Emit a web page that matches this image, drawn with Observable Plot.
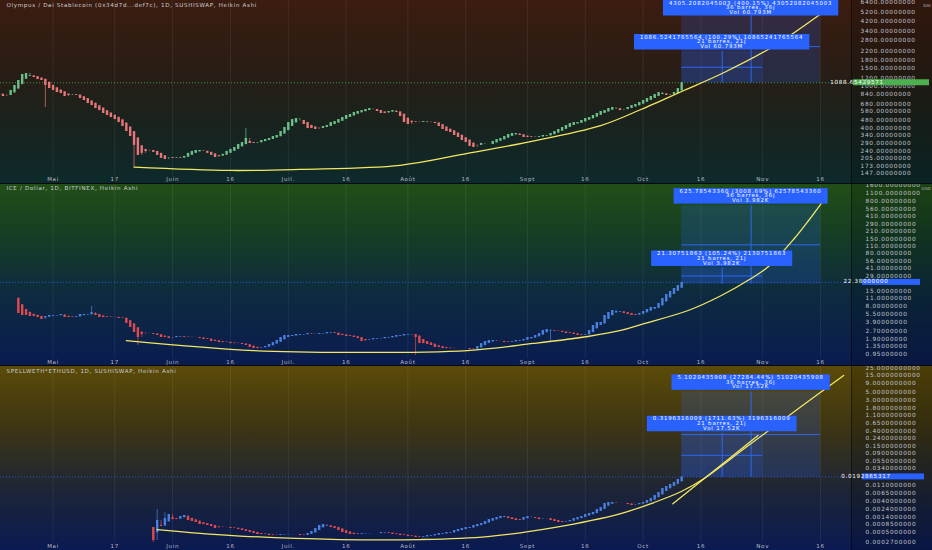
<!DOCTYPE html>
<html><head><meta charset="utf-8">
<script src="https://cdn.jsdelivr.net/npm/d3@7"></script>
<script src="https://cdn.jsdelivr.net/npm/@observablehq/plot@0.6"></script>
<style>
html,body{margin:0;padding:0;background:#0b1530;}
#wrap{width:932px;height:550px;position:relative;overflow:hidden;}
.panel{position:relative;width:932px;overflow:hidden;}
.axcol{position:absolute;top:0;right:0;width:80px;height:100%;background:rgba(0,0,0,0.16);border-left:1px solid rgba(0,0,0,0.45);}
.sepline{position:absolute;left:0;top:0;width:100%;height:1px;background:#070a10;z-index:3;}
.panel svg{position:relative;display:block;z-index:1;}
</style></head><body><div id="wrap"></div>
<script>
// ---------- shared x axis ----------
const xTickDates = ["2021-05-01","2021-05-17","2021-06-01","2021-06-16","2021-07-01","2021-07-16","2021-08-01","2021-08-16","2021-09-01","2021-09-16","2021-10-01","2021-10-16","2021-11-01","2021-11-16"];
const xTickLabels = ["Mai","17","Juin","16","Juil.","16","Août","16","Sept","16","Oct","16","Nov","16"];

// ---------- Panel 1 : OHM / DAI ----------
const ohmTitle = "Olympus / Dai Stablecoin (0x34d7d...def7c), 1D, SUSHISWAP, Heikin Ashi";
const ohmStart = "2021-04-17";
const ohmFirstOpen = 850;
const ohmClose = [839,803,821,917,1024,1144,1306,1335,1277,1222,
1169,1144,1024,958,917,877,858,803,821,839,
821,768,735,688,658,616,589,552,528,505,
483,452,414,371,332,273,219,229,239,244,
234,219,205,200,209,205,209,205,214,229,
239,244,244,239,229,219,209,214,224,239,
250,261,279,291,318,285,285,291,304,311,
318,332,340,371,405,452,483,494,473,433,
396,396,388,396,414,423,452,462,483,505,
528,540,564,577,589,603,616,603,577,552,
552,577,589,564,516,452,433,452,452,452,
462,452,452,442,414,388,371,363,340,325,
304,291,267,261,273,285,279,279,298,311,
318,332,347,355,355,340,325,325,325,325,
332,340,340,355,371,388,405,423,442,452,
452,473,494,505,528,552,577,589,616,630,
616,589,603,630,658,673,703,735,768,803,
839,877,858,821,839,877,958,1088.65429571];
const ohmWicks = [[12,null,630],[35,null,169],[64,396,null]];
const ohmCurveDates = ["2021-05-22","2021-06-16","2021-07-04","2021-07-30","2021-08-16T12:00","2021-08-31T12:00","2021-09-20","2021-09-30T10:00","2021-10-05T17:00","2021-10-11T14:00","2021-10-22","2021-11-03T07:00","2021-11-15T12:00","2021-11-19T14:00"];
const ohmCurveValues = [169,157,161,176,229,291,423,603,735,917,1365,2370,4803,6260];
const ohmTicks = [6400,5200,4200,3400,2800,2200,1800,1500,1200,1000,840,680,580,480,400,340,290,240,205,173,147];
const ohmBox = [1083.4, 5388.6, 2169.9]; // start, top 36 bars, top 21 bars
const ohmLabelA = ["4305.2082045003 (400.15%) 43052082045003","36 barres, 36j","Vol 60.793M"];
const ohmLabelB = ["1086.5241765564 (100.29%) 10865241765564","21 barres, 21j","Vol 60.793M"];

// ---------- Panel 2 : ICE / USD ----------
const iceTitle = "ICE / Dollar, 1D, BITFINEX, Heikin Ashi";
const iceStart = "2021-04-22";
const iceFirstOpen = 11.04;
const iceClose = [5.72,5.24,5.24,5.02,5.02,4.80,4.40,5.02,5.24,5.24,
5.24,5.48,4.80,4.80,4.80,5.02,5.48,5.48,5.48,5.98,
5.24,4.80,4.80,4.80,4.80,4.80,4.60,4.60,3.69,3.10,
2.49,2.00,2.28,2.38,2.38,2.28,2.18,2.00,2.00,1.91,
2.00,2.09,2.09,2.00,2.00,2.00,2.00,1.91,1.83,1.83,
1.68,1.68,1.60,1.60,1.60,1.53,1.53,1.53,1.47,1.41,
1.29,1.23,1.23,1.29,1.35,1.47,1.60,1.75,2.00,2.18,
2.18,2.18,2.28,2.28,2.28,2.38,2.28,2.28,2.38,2.38,
2.49,2.49,2.38,2.18,2.18,2.09,2.09,2.00,1.91,1.68,
1.75,1.83,1.91,1.91,1.91,2.00,2.00,2.09,2.18,2.18,
2.28,2.28,2.28,2.00,1.53,1.53,1.47,1.41,1.29,1.29,
1.23,1.23,1.23,1.23,1.23,1.23,1.23,1.18,1.18,1.35,
1.53,1.68,1.75,1.75,1.68,1.68,1.60,1.60,1.68,1.75,
1.75,1.83,2.00,2.00,2.18,2.38,2.72,2.84,2.72,2.60,
2.60,2.49,2.38,2.38,2.28,2.18,2.18,2.28,2.72,3.38,
3.86,3.86,5.24,5.98,6.53,6.25,6.25,5.72,5.48,5.24,
5.24,5.72,6.25,6.82,7.44,7.44,8.87,11.04,13.16,15.01,
17.11,19.52,22.38];
const iceWicks = [[0,11.54,null],[19,7.78,null],[31,null,1.41],[103,null,0.91],[138,null,1.60]];
const iceCurveDates = ["2021-05-20","2021-06-22","2021-07-17","2021-08-16T12:00","2021-09-02T14:00","2021-09-16T17:00","2021-09-25T05:00","2021-09-30T10:00","2021-10-12T16:00","2021-10-21T07:00","2021-10-29T00:00","2021-11-02T12:00","2021-11-09T05:00","2021-11-12T22:00","2021-11-16T17:00"];
const iceCurveValues = [1.75,1.13,1.04,1.13,1.54,2.09,2.72,3.53,6.53,12.6,26.5,44.9,153,337,809];
const iceTicks = [1600,1100,800,560,410,290,210,150,110,80,56,41,29,15,11,8,5.5,3.9,2.7,1.9,1.35,0.95];
const iceBox = [20.8, 646.6, 42.1];
const iceLabelA = ["625.78543360 (3008.69%) 62578543360","36 barres, 36j","Vol 3.982K"];
const iceLabelB = ["21.30751863 (105.24%) 2130751863","21 barres, 21j","Vol 3.982K"];

// ---------- Panel 3 : SPELL / USD ----------
const spellTitle = "SPELLWETH*ETHUSD, 1D, SUSHISWAP, Heikin Ashi";
const spellStart = "2021-05-27";
const spellFirstOpen = 0.000694;
const spellClose = [0.000296,0.00110,0.000741,0.00125,0.00163,0.00117,0.00117,0.00143,0.00153,0.00110,
0.00103,0.000964,0.000845,0.000845,0.000792,0.000741,0.000650,0.000694,0.000694,0.000694,
0.000650,0.000650,0.000609,0.000570,0.000534,0.000500,0.000468,0.000438,0.000438,0.000438,
0.000410,0.000410,0.000410,0.000438,0.000438,0.000438,0.000438,0.000438,0.000410,0.000410,
0.000468,0.000534,0.000650,0.000792,0.000845,0.000792,0.000694,0.000650,0.000570,0.000500,
0.000468,0.000438,0.000438,0.000438,0.000468,0.000468,0.000468,0.000468,0.000468,0.000500,
0.000500,0.000468,0.000438,0.000438,0.000410,0.000410,0.000384,0.000384,0.000360,0.000360,
0.000384,0.000410,0.000410,0.000438,0.000468,0.000468,0.000500,0.000500,0.000570,0.000609,
0.000650,0.000694,0.000694,0.000792,0.000845,0.000903,0.00103,0.00117,0.00125,0.00134,
0.00143,0.00143,0.00125,0.00117,0.00110,0.00110,0.00134,0.00143,0.00134,0.00125,
0.00117,0.00125,0.00125,0.00110,0.00103,0.000964,0.000964,0.00103,0.00110,0.00125,
0.00134,0.00143,0.00163,0.00174,0.00186,0.00226,0.00258,0.00336,0.00358,0.00358,
0.00336,0.00336,0.00336,0.00314,0.00294,0.00314,0.00336,0.00358,0.00409,0.00466,
0.00568,0.00691,0.00899,0.01025,0.01169,0.01333,0.01623,0.0192865317];
const spellWicks = [[0,null,0.000243],[1,0.00226,null],[3,0.00186,null]];
const spellCurveDates = ["2021-05-28","2021-06-16T14:00","2021-07-14T10:00","2021-08-04T05:00","2021-08-21T17:00","2021-09-07T19:00","2021-09-25T05:00","2021-10-03T19:00","2021-10-10T22:00","2021-10-16T19:00","2021-10-28T07:00","2021-11-10T07:00","2021-11-22"];
const spellCurveValues = [0.000609,0.000410,0.000316,0.000316,0.000384,0.000694,0.00174,0.00358,0.00738,0.01734,0.151,1.72,15];
const spellTangentDates = ["2021-10-08T17:00","2021-10-30T19:00"];
const spellTangentValues = [0.00329,0.292];
const spellTicks = [25,15,9,5,3,1.8,1.1,0.65,0.4,0.24,0.15,0.09,0.055,0.034,0.011,0.0065,0.004,0.0024,0.0014,0.00085,0.0005,0.00027];
const spellBox = [0.0187, 5.1207, 0.3383];
const spellLabelA = ["5.1020435908 (27284.44%) 51020435908","36 barres, 36j","Vol 17.52K"];
const spellLabelB = ["0.3196316009 (1711.63%) 3196316009","21 barres, 21j","Vol 17.52K"];

// ---------- projection window ----------
const boxStartDate = "2021-10-11";
const boxEndA = "2021-11-16";
const boxEndB = "2021-11-01";

// ---------- helpers ----------
const P = s => new Date(s.length === 10 ? s + "T00:00:00Z" : s + ":00Z");
const xDomain = [P("2021-04-17T09:00"), P("2021-11-24T07:00")];
const tickDates = xTickDates.map(P);
const tickLabelMap = new Map(tickDates.map((d, i) => [+d, xTickLabels[i]]));

function buildCandles(start, closes, firstOpen, wicks) {
  const t0 = P(start);
  const rows = [];
  for (let i = 0; i < closes.length; i++) {
    const c = closes[i];
    const o = i === 0 ? firstOpen : (rows[i-1].open + rows[i-1].close) / 2;
    const pc = i === 0 ? c : closes[i-1];
    rows.push({date: d3.utcDay.offset(t0, i), open: o, close: c,
      high: Math.max(o, c, pc), low: Math.min(o, c, pc), up: c >= o});
  }
  for (const [i, h, l] of wicks) {
    if (h != null) rows[i].high = Math.max(rows[i].high, h);
    if (l != null) rows[i].low = Math.min(rows[i].low, l);
  }
  return rows;
}

const wrap = document.getElementById("wrap");

function makePanel(cfg) {
  const rows = buildCandles(cfg.start, cfg.closes, cfg.firstOpen, cfg.wicks);
  const curve = cfg.curveDates.map((d, i) => ({date: P(d), value: cfg.curveValues[i]}));
  const tangent = cfg.tangentDates ? cfg.tangentDates.map((d, i) => ({date: P(d), value: cfg.tangentValues[i]})) : [];
  const b0 = P(boxStartDate), bA = P(boxEndA), bB = P(boxEndB);
  const boxes = [
    {x1: b0, x2: bA, y1: cfg.box[0], y2: cfg.box[1]},
    {x1: b0, x2: bB, y1: cfg.box[0], y2: cfg.box[2]}
  ];
  const midA = new Date((+b0 + +bA) / 2), midB = new Date((+b0 + +bB) / 2);
  const vlines = [{x: midA, y1: cfg.box[0], y2: cfg.box[1]}, {x: midB, y1: cfg.box[0], y2: cfg.box[2]}];
  const hlines = [{y: Math.sqrt(cfg.box[0]*cfg.box[1]), x1: b0, x2: bA}, {y: Math.sqrt(cfg.box[0]*cfg.box[2]), x1: b0, x2: bB}];
  const last = rows[rows.length - 1];

  const div = document.createElement("div");
  div.className = "panel";
  div.style.height = cfg.height + "px";
  div.style.background = cfg.bg;
  div.innerHTML = '<div class="axcol"></div>' + (cfg.sep ? '<div class="sepline"></div>' : '');
  wrap.appendChild(div);

  const chart = Plot.plot({
    width: 932, height: cfg.height,
    marginTop: 0, marginBottom: cfg.mb, marginLeft: 0, marginRight: 80,
    style: {background: "transparent", fontFamily: "'DejaVu Sans', sans-serif", color: "#b7bac2", letterSpacing: "0.7px", overflow: "hidden"},
    x: {type: "utc", domain: xDomain},
    y: {type: "log", domain: cfg.domain, axis: null},
    marks: [
      Plot.ruleX(tickDates, {stroke: "#ffffff", strokeOpacity: 0.07}),
      Plot.ruleY([last.close], {stroke: cfg.badge, strokeDasharray: "1,2", strokeOpacity: 0.8}),
      Plot.rect(boxes.slice(0,1), {x1: "x1", x2: "x2", y1: "y1", y2: "y2", fill: "#2962ff", fillOpacity: 0.2}),
      Plot.rect(boxes.slice(1), {x1: "x1", x2: "x2", y1: "y1", y2: "y2", fill: "#2962ff", fillOpacity: 0.14}),
      Plot.ruleX(vlines, {x: "x", y1: "y1", y2: "y2", stroke: "#2f6bff", strokeOpacity: 0.9}),
      Plot.ruleY(hlines, {y: "y", x1: "x1", x2: "x2", stroke: "#2f6bff", strokeOpacity: 0.9}),
      Plot.ruleX(rows.filter(d => d.up), {x: "date", y1: "low", y2: "high", stroke: cfg.up, strokeWidth: 0.7, clip: true}),
      Plot.ruleX(rows.filter(d => !d.up), {x: "date", y1: "low", y2: "high", stroke: cfg.down, strokeWidth: 0.7, clip: true}),
      Plot.ruleX(rows.filter(d => d.up), {x: "date", y1: "open", y2: "close", stroke: cfg.up, strokeWidth: 2.4, clip: true}),
      Plot.ruleX(rows.filter(d => !d.up), {x: "date", y1: "open", y2: "close", stroke: cfg.down, strokeWidth: 2.4, clip: true}),
      Plot.line(curve, {x: "date", y: "value", stroke: "#f3e663", strokeWidth: 1.3, curve: "catmull-rom", clip: true}),
      Plot.line(tangent, {x: "date", y: "value", stroke: "#f3e663", strokeWidth: 1.3, clip: true}),
      Plot.axisX({ticks: tickDates, tickFormat: d => tickLabelMap.get(+d), tickSize: 0, tickPadding: 2, fontSize: 5.5}),
      Plot.text(cfg.yTicks, {y: d => d, text: d => d.toFixed(cfg.dec), frameAnchor: "right", textAnchor: "start", dx: cfg.tp, fontSize: 5.8, fill: "#c0c3ca"}),
      Plot.text([cfg.title], {text: d => d, frameAnchor: "top-left", textAnchor: "start", lineAnchor: "middle", dx: 6, dy: cfg.titleDy, fontSize: 5.5, fill: "#cdd0d6"})
    ]
  });
  div.appendChild(chart);

  // decorations using the chart's own scales
  const Xd = chart.scale("x"), Yd = chart.scale("y");
  const sx = d3.scaleUtc(Xd.domain, Xd.range);
  const sy = d3.scaleLog(Yd.domain, Yd.range);
  const svg = d3.select(chart);
  const g = svg.append("g").attr("font-family", "'DejaVu Sans', sans-serif");

  // unit next to the top tick
  if (cfg.unit) g.append("text").attr("x", 931).attr("y", cfg.unitY).attr("text-anchor", "end")
    .attr("font-size", 4.2).attr("letter-spacing", "0.2px").attr("fill", "#b7bac2").attr("dominant-baseline", "middle").text(cfg.unit);

  // last price badge
  const by = sy(last.close);
  g.append("rect").attr("x", cfg.badgeX).attr("y", by - 3).attr("width", cfg.badgeW).attr("height", 6).attr("fill", cfg.badge);
  g.append("text").attr("x", cfg.badgeX + 4).attr("y", by).attr("dominant-baseline", "middle")
    .attr("font-size", 5.6).attr("fill", "#ffffff").text(cfg.badgeText);

  // measurement labels
  function label(box, lines) {
    const cx = (sx(box.x1) + sx(box.x2)) / 2;
    const top = sy(box.y2);
    const y = Math.max(top - 17, 0);
    const lg = g.append("g");
    const rect = lg.append("rect");
    let w = 0;
    lines.forEach((t, i) => {
      const tx = lg.append("text").attr("x", cx).attr("y", y + 3.2 + i * 4.7)
        .attr("text-anchor", "middle").attr("dominant-baseline", "middle")
        .attr("font-size", 5.4).attr("letter-spacing", "0.85px").attr("fill", "#ffffff").text(t);
      w = Math.max(w, tx.node().getComputedTextLength());
    });
    rect.attr("x", cx - w/2 - 6).attr("y", y).attr("width", w + 12).attr("height", 15.5).attr("fill", "#2962ff");
  }
  label(boxes[0], cfg.labelA);
  label(boxes[1], cfg.labelB);
}

makePanel({
  title: ohmTitle, titleDy: 4.5, start: ohmStart, closes: ohmClose, firstOpen: ohmFirstOpen, wicks: ohmWicks,
  curveDates: ohmCurveDates, curveValues: ohmCurveValues,
  box: ohmBox, labelA: ohmLabelA, labelB: ohmLabelB,
  yTicks: ohmTicks, dec: 8, tp: 8, domain: [140.5, 6689],
  height: 183, mb: 8,
  up: "#6cc08a", down: "#e8767a", badge: "#4caf50", badgeText: "1088.65429571", badgeX: 853, badgeW: 76,
  unit: "DAI", unitY: 5.5,
  bg: "linear-gradient(180deg,#3c1c10 0%,#2a1d14 35%,#18231e 70%,#0d2a2c 100%)", sep: false
});
makePanel({
  title: iceTitle, titleDy: 4.5, start: iceStart, closes: iceClose, firstOpen: iceFirstOpen, wicks: iceWicks,
  curveDates: iceCurveDates, curveValues: iceCurveValues,
  box: iceBox, labelA: iceLabelA, labelB: iceLabelB,
  yTicks: iceTicks, dec: 8, tp: 13, domain: [0.797, 1705],
  height: 182, mb: 7,
  up: "#4a80e0", down: "#e04a4f", badge: "#2962ff", badgeText: "22.38000000", badgeX: 862, badgeW: 58,
  unit: "USD", unitY: 5.6,
  bg: "linear-gradient(180deg,#224f16 0%,#153d26 30%,#0d2a40 62%,#0a1c50 100%)", sep: true
});
makePanel({
  title: spellTitle, titleDy: 6, start: spellStart, closes: spellClose, firstOpen: spellFirstOpen, wicks: spellWicks,
  curveDates: spellCurveDates, curveValues: spellCurveValues,
  tangentDates: spellTangentDates, tangentValues: spellTangentValues,
  box: spellBox, labelA: spellLabelA, labelB: spellLabelB,
  yTicks: spellTicks, dec: 10, tp: 13, domain: [0.00026, 28.9],
  height: 185, mb: 8,
  up: "#4a80e0", down: "#e04a4f", badge: "#2962ff", badgeText: "0.0192865317", badgeX: 862, badgeW: 62,
  unit: null,
  bg: "linear-gradient(180deg,#5c4b08 0%,#3f3612 32%,#1b2438 70%,#0a1a52 100%)", sep: true
});
</script>
</body></html>
